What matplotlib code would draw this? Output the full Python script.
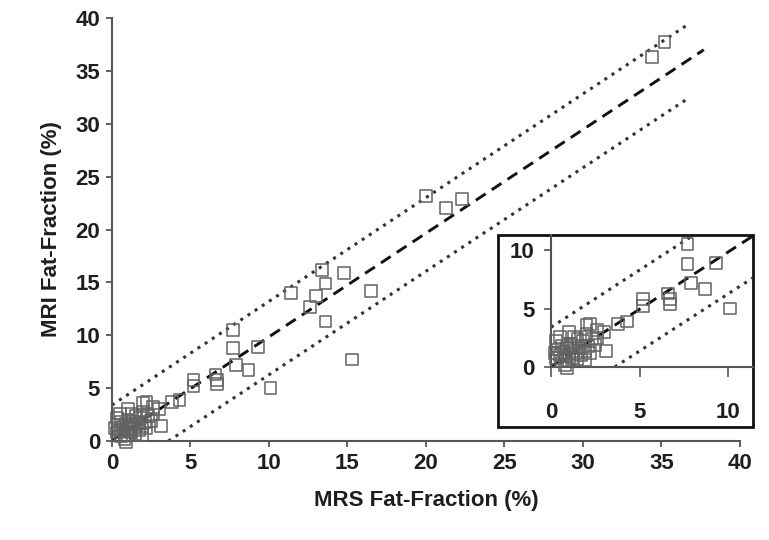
import matplotlib
matplotlib.use("Agg")
import matplotlib.pyplot as plt
import numpy as np
from matplotlib.patches import Rectangle

plt.rcParams['font.family'] = ['Liberation Sans', 'DejaVu Sans']

# MRS vs MRI fat-fraction (%)
mrs = [34.4, 35.2, 20.0, 21.3, 22.3,
       13.4, 14.8, 13.6, 13.0, 11.4, 12.6, 13.6, 16.5, 15.3,
       7.7, 7.7, 9.3, 7.9, 8.7, 10.1, 6.6, 6.7, 6.7, 5.2, 5.2,
       4.3, 3.8, 3.1, 2.2, 2.0, 2.6, 3.0, 0.9,
       0.2, 0.3, 0.4, 0.5, 0.6, 0.6, 0.7, 0.8, 0.9, 1.0, 1.0, 1.1,
       1.2, 1.2, 1.3, 1.4, 1.5, 1.5, 1.6, 1.7, 1.8, 1.9, 2.0, 2.1,
       0.3, 0.5, 1.0, 1.3, 2.3, 2.5, 0.8, 1.9, 2.2, 2.6]
mri = [36.3, 37.7, 23.2, 22.0, 22.9,
       16.2, 15.9, 14.9, 13.7, 14.0, 12.7, 11.3, 14.2, 7.7,
       10.5, 8.8, 8.9, 7.2, 6.7, 5.0, 6.3, 5.8, 5.4, 5.8, 5.2,
       3.9, 3.7, 1.4, 3.7, 3.6, 3.2, 3.0, -0.1,
       1.2, 0.8, 1.5, 1.0, 0.5, 1.8, 1.3, 0.9, 1.6, 1.1, 0.6, 2.0,
       1.4, 0.8, 1.8, 1.2, 2.4, 0.7, 1.6, 1.0, 2.2, 1.4, 2.8, 1.8,
       2.2, 2.6, 3.0, 2.6, 2.4, 1.9, 0.2, 0.6, 1.2, 2.5]

# regression line and limits (end points)
fit_x = [0, 37.7]
fit_y = [0.05, 37.0]
upper_x = [0, 36.6]
upper_y = [3.4, 39.3]
lower_x = [3.6, 36.8]
lower_y = [0, 32.5]

main_ticks = [0, 5, 10, 15, 20, 25, 30, 35, 40]
inset_ticks = [0, 5, 10]

txt = "#1e1e1e"
spine_c = "#555555"
mk_c = "#626262"
fs = 16


def draw(ax, xmax, ymax):
    x = np.array(mrs)
    y = np.array(mri)
    keep = (x <= xmax) & (y <= ymax)
    ax.scatter(x[keep], y[keep], marker="s", s=72, facecolors="none",
               edgecolors=mk_c, linewidths=1.1, clip_on=False, zorder=3)
    ax.plot(fit_x, fit_y, color="#111111", lw=2.1, ls=(0, (4, 2.5)), zorder=2)
    ax.plot(upper_x, upper_y, color="#333333", lw=2.2, ls=(0, (1, 1.8)), zorder=2)
    ax.plot(lower_x, lower_y, color="#333333", lw=2.2, ls=(0, (1, 1.8)), zorder=2)
    for s in ["top", "right"]:
        ax.spines[s].set_visible(False)
    for s in ["left", "bottom"]:
        ax.spines[s].set_color(spine_c)
        ax.spines[s].set_linewidth(1.5)


fig = plt.figure(figsize=(7.69, 5.40), dpi=100)

ax = fig.add_axes([0.1456, 0.1833, 0.8166, 0.7833])
draw(ax, 40, 40)
ax.set_xlim(0, 40)
ax.set_ylim(0, 40)
ax.set_xticks(main_ticks)
ax.set_yticks(main_ticks)
ax.tick_params(length=4.5, width=1.3, color=spine_c, labelsize=fs,
               labelcolor=txt, pad=4)
for lab in ax.get_xticklabels() + ax.get_yticklabels():
    lab.set_fontweight("bold")
ax.set_xlabel("MRS Fat-Fraction (%)", fontsize=fs, fontweight="bold",
              color=txt, labelpad=12)
ax.set_ylabel("MRI Fat-Fraction (%)", fontsize=fs, fontweight="bold",
              color=txt, labelpad=10)

# inset frame
fig.patches.append(Rectangle((0.6476, 0.2093), 0.3316, 0.3556,
                             transform=fig.transFigure, facecolor="white",
                             edgecolor="#111111", linewidth=2, zorder=5))

axi = fig.add_axes([0.7165, 0.3204, 0.2627, 0.2444])
axi.set_zorder(6)
draw(axi, 11.4, 11.3)
axi.set_xlim(0, 11.4)
axi.set_ylim(0, 11.3)
axi.set_xticks(inset_ticks)
axi.set_yticks(inset_ticks)
axi.tick_params(axis="x", length=7, width=1.2, color=spine_c,
                labelsize=fs, labelcolor=txt, pad=18)
axi.tick_params(axis="y", length=5, width=1.2, color=spine_c,
                labelsize=fs, labelcolor=txt, pad=7)
for lab in axi.get_xticklabels() + axi.get_yticklabels():
    lab.set_fontweight("bold")
axi.patch.set_alpha(0)

fig.savefig("out.png", dpi=100)
